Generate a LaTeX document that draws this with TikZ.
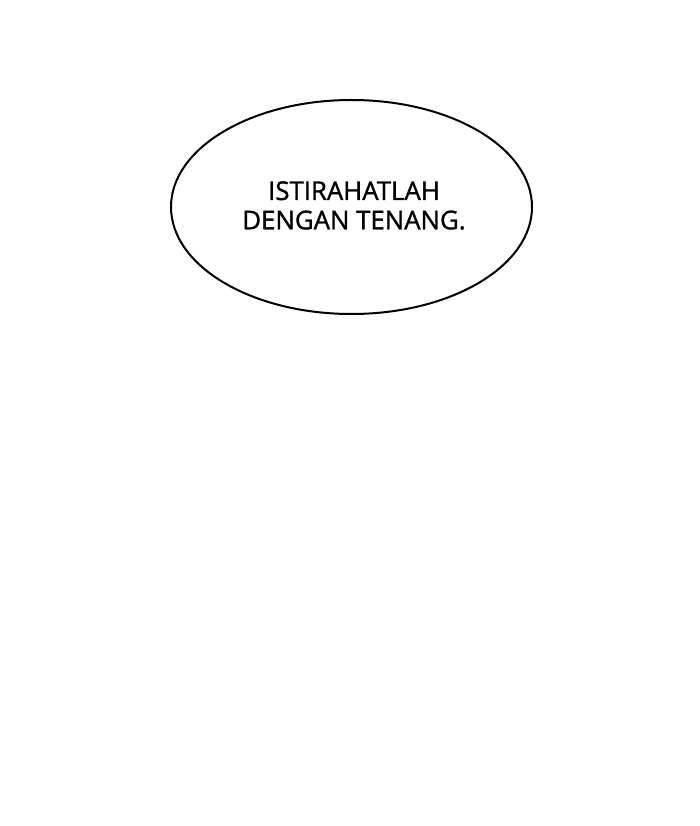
\documentclass[tikz,border=0pt]{standalone}
\usepackage{fontspec}
\setmainfont{Open Sans}
\newfontfamily\bubfont{Open Sans}[FakeBold=1.2]
\usetikzlibrary{shapes.geometric}
\begin{document}
\begin{tikzpicture}[x=1pt,y=1pt,
  bubble/.style={draw=black,line width=2pt,fill=white,ellipse,minimum width=361pt,minimum height=214pt,inner sep=0pt},
  speech/.style={font=\bubfont\fontsize{25.8}{29.3}\selectfont,align=center,text=black}]
\useasboundingbox[fill=white] (0,0) rectangle (700,-826);
\node[bubble] (b) at (351.5,-207) {};
\node[speech,anchor=base] (t) at (354,-229.3) {ISTIRAHATLAH\\DENGAN TENANG.};
\end{tikzpicture}
\end{document}
